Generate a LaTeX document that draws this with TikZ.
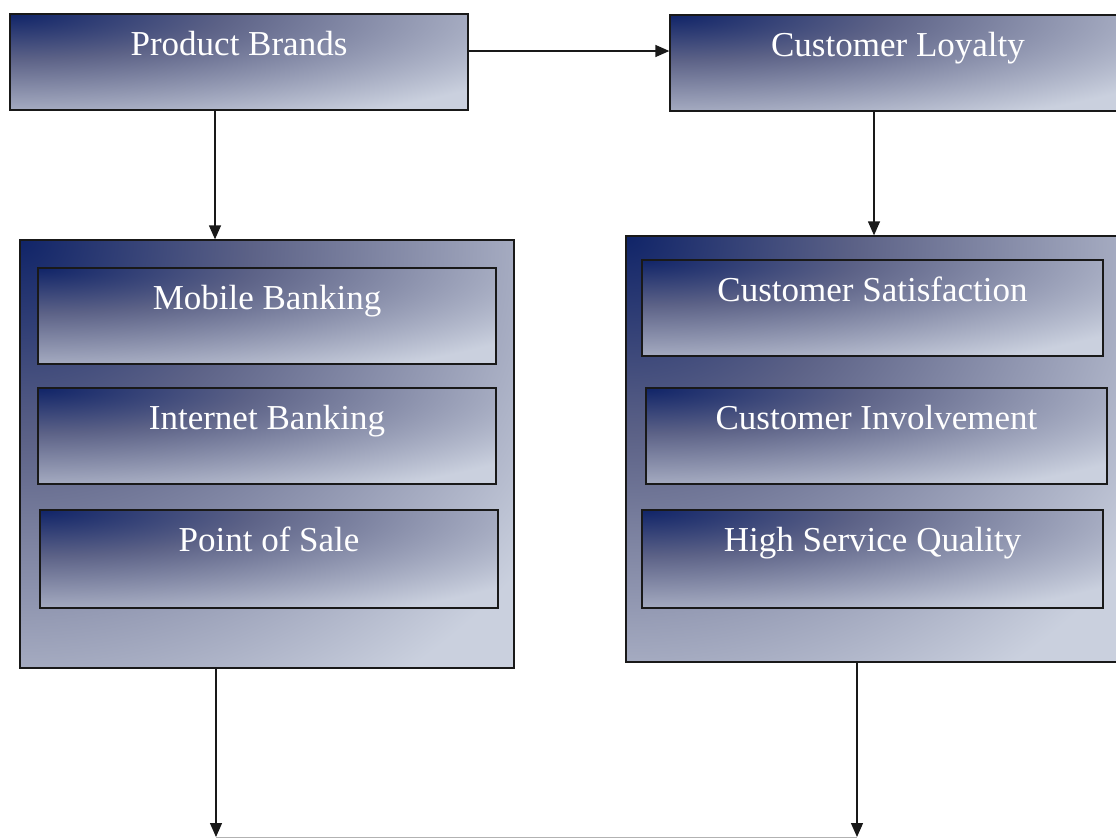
\documentclass[tikz,border=0pt]{standalone}
\usepackage{fontspec}
\setmainfont{Liberation Serif}
\usetikzlibrary{arrows.meta}

% navy corner fading out from the top left of each box
\pgfdeclarefunctionalshading{boxfade}{\pgfpointorigin}{\pgfpoint{100bp}{100bp}}{}{
  75 exch sub 50 div dup mul
  exch 25 sub 50 div dup mul
  add sqrt 1.4142 div
  dup 0 lt {pop 0} if
  dup 0.9 gt {pop 0.9} if
  dup 0.33 lt
  { 0.33 div
    dup 0.298 mul 0.063 add exch
    dup 0.243 mul 0.141 add exch
    0.121 mul 0.408 add }
  { 0.33 sub 0.57 div
    dup 0.431 mul 0.361 add exch
    dup 0.432 mul 0.384 add exch
    0.342 mul 0.529 add }
  ifelse
}

\begin{document}
\begin{tikzpicture}[x=1pt, y=-1pt, >={Triangle[length=14pt,width=12pt]},
  fadebox/.style={draw=black!90, line width=1.3pt, shade, shading=boxfade, inner sep=0pt},
  label/.style={fadebox, minimum width=458pt, text height=41pt, text depth=55pt, align=center, text=white, font=\fontsize{35}{40}\selectfont},
  flow/.style={->, line width=1.3pt, black!90}]
  \useasboundingbox (0,0) rectangle (1116,838);

  % top row
  \node[label] (brands) at (239,62) {Product Brands};
  \node[label, minimum width=456pt] (loyalty) at (898,63) {Customer Loyalty};

  % channel group
  \node[fadebox, minimum width=494pt, minimum height=428pt] (banking) at (267,454) {};
  \node[label] (mobile) at (267,316) {Mobile Banking};
  \node[label] (internet) at (267,436) {Internet Banking};
  \node[label, text depth=57pt] (pos) at (269,559) {Point of Sale};

  % loyalty drivers
  \node[fadebox, minimum width=492pt, minimum height=426pt] (drivers) at (872,449) {};
  \node[label, minimum width=461pt] (satisf) at (872.5,308) {Customer Satisfaction};
  \node[label, minimum width=461pt] (involve) at (876.5,436) {Customer Involvement};
  \node[label, minimum width=461pt, text depth=57pt] (service) at (872.5,559) {High Service Quality};

  \coordinate (floorL) at (216,837);
  \coordinate (floorR) at (857,837);

  \draw[flow] ([yshift=11pt]brands.east) -- ([yshift=11pt]brands.east -| loyalty.west);
  \draw[flow] ([xshift=-24pt]brands.south) -- ([xshift=-24pt]brands.south |- banking.north);
  \draw[flow] ([xshift=-24pt]loyalty.south) -- ([xshift=-24pt]loyalty.south |- drivers.north);
  \draw[black!30, line width=1pt] (floorL) -- (floorR);
  \draw[flow] (banking.south -| floorL) -- (floorL);
  \draw[flow] (drivers.south -| floorR) -- (floorR);
\end{tikzpicture}
\end{document}
